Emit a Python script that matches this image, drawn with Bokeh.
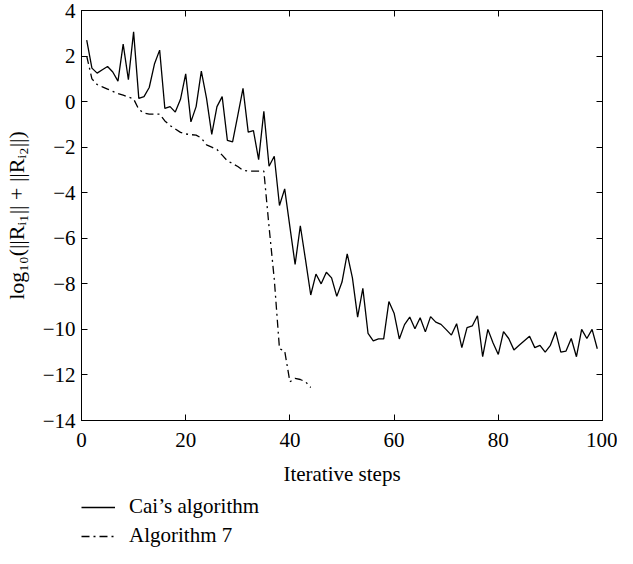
from bokeh.plotting import figure
from bokeh.models import Range1d, FixedTicker, LinearAxis, Legend, LegendItem
from bokeh.layouts import column
from bokeh.embed import file_html
from bokeh.resources import INLINE

# ---- data ----
cai_x = list(range(1, 100))
cai_y = [2.7, 1.47, 1.25, 1.4, 1.54, 1.3, 0.9, 2.52, 0.96, 3.06,
         0.14, 0.22, 0.62, 1.65, 2.26, -0.3, -0.22, -0.46, 0.1, 1.22,
         -0.89, -0.22, 1.34, 0.14, -1.44, -0.22, 0.22, -1.7, -1.77, -0.6,
         0.58, -1.34, -1.27, -2.55, -0.43, -2.84, -2.4, -4.56, -3.83, -5.5,
         -7.15, -5.45, -6.95, -8.49, -7.57, -8.0, -7.49, -7.74, -8.55, -7.92,
         -6.68, -7.74, -9.46, -8.2, -10.18, -10.5, -10.42, -10.42, -8.78, -9.29,
         -10.42, -9.79, -9.46, -9.97, -9.49, -10.11, -9.44, -9.68, -9.78, -10.01,
         -10.25, -9.75, -10.8, -9.92, -9.85, -9.4, -11.2, -10.0, -10.6, -11.1,
         -10.1, -10.4, -10.9, -10.7, -10.5, -10.3, -10.8, -10.7, -11.0, -10.7,
         -10.1, -11.0, -10.95, -10.4, -11.2, -10.0, -10.4, -10.0, -10.85]

alg7_x = list(range(1, 45))
alg7_y = [2.0, 1.0, 0.75, 0.65, 0.55, 0.45, 0.35, 0.28, 0.2, 0.12,
          -0.35, -0.5, -0.55, -0.55, -0.55, -0.85, -1.05, -1.2, -1.35, -1.42,
          -1.45, -1.47, -1.6, -1.9, -2.0, -2.1, -2.35, -2.6, -2.72, -2.85,
          -3.02, -3.05, -3.05, -3.05, -3.05, -5.5, -7.8, -10.85, -10.95, -12.3,
          -12.15, -12.2, -12.3, -12.55]

x_ticks = [0, 20, 40, 60, 80, 100]
y_ticks = [-14, -12, -10, -8, -6, -4, -2, 0, 2, 4]
series_names = ["Cai\u2019s algorithm", "Algorithm 7"]

FONT = "Liberation Serif"
FS = "21px"
DASHES = ["solid", "8 4 2 4"]

p = figure(width=617, height=492, output_backend="svg", toolbar_location=None,
           x_range=Range1d(0, 100), y_range=Range1d(-14, 4),
           min_border_left=79, min_border_right=15, min_border_top=10,
           min_border_bottom=72)
p.grid.visible = False
p.outline_line_color = "black"
p.outline_line_width = 1
p.background_fill_color = "white"
p.border_fill_color = "white"

def style_axis(ax, ticks, labels=True):
    ax.ticker = FixedTicker(ticks=ticks)
    ax.major_tick_in = 6
    ax.major_tick_out = 0
    ax.minor_tick_line_color = None
    ax.axis_line_color = "black"
    ax.major_tick_line_color = "black"
    ax.major_label_text_font = FONT
    ax.major_label_text_font_size = FS
    ax.major_label_text_color = "black"
    ax.axis_label_text_font = FONT
    ax.axis_label_text_font_size = FS
    ax.axis_label_text_font_style = "normal"
    ax.axis_label_text_color = "black"
    if labels:
        ax.major_label_overrides = {t: (str(t).replace("-", "\u2212")) for t in ticks}
    else:
        ax.major_label_overrides = {t: "" for t in ticks}
        ax.major_label_standoff = 0

style_axis(p.xaxis[0], x_ticks)
style_axis(p.yaxis[0], y_ticks)
p.xaxis[0].axis_label = "Iterative steps"
p.xaxis[0].major_label_standoff = 12
p.xaxis[0].axis_label_standoff = 12
p.yaxis[0].axis_label = "log\u2081\u2080(||R\u1d62\u2081|| + ||R\u1d62\u2082||)"
p.yaxis[0].axis_label_text_font_size = "22px"
p.yaxis[0].major_label_standoff = 6
p.yaxis[0].axis_label_standoff = 11

top_ax = LinearAxis()
style_axis(top_ax, x_ticks, labels=False)
p.add_layout(top_ax, "above")
right_ax = LinearAxis()
style_axis(right_ax, y_ticks, labels=False)
p.add_layout(right_ax, "right")

p.line(cai_x, cai_y, line_color="black", line_width=1.3, line_dash=DASHES[0])
p.line(alg7_x, alg7_y, line_color="black", line_width=1.3, line_dash=DASHES[1])

# ---- legend panel below the chart ----
lg = figure(width=617, height=56, output_backend="svg", toolbar_location=None,
            x_range=Range1d(0, 1), y_range=Range1d(0, 1),
            min_border_left=79, min_border_right=15, min_border_top=0,
            min_border_bottom=0)
lg.axis.visible = False
lg.grid.visible = False
lg.outline_line_color = None
lg.background_fill_color = "white"
lg.border_fill_color = "white"
items = []
for name, dash in zip(series_names, DASHES):
    # proxy renderer (its data lies outside the visible range) for the legend swatch
    rr = lg.line([-2, -1], [-2, -2], line_color="black", line_width=1.3, line_dash=dash)
    items.append(LegendItem(label=name, renderers=[rr]))
legend = Legend(items=items, location=(0, 0), orientation="vertical")
legend.label_text_font = FONT
legend.label_text_font_size = FS
legend.label_text_color = "black"
legend.glyph_width = 34
legend.glyph_height = 22
legend.label_height = 22
legend.label_standoff = 14
legend.spacing = 4
legend.padding = 0
legend.margin = 0
legend.border_line_color = None
legend.background_fill_alpha = 0
lg.add_layout(legend, "center")

layout = column(p, lg, spacing=0)
open("out.html", "w").write(file_html(layout, INLINE))
